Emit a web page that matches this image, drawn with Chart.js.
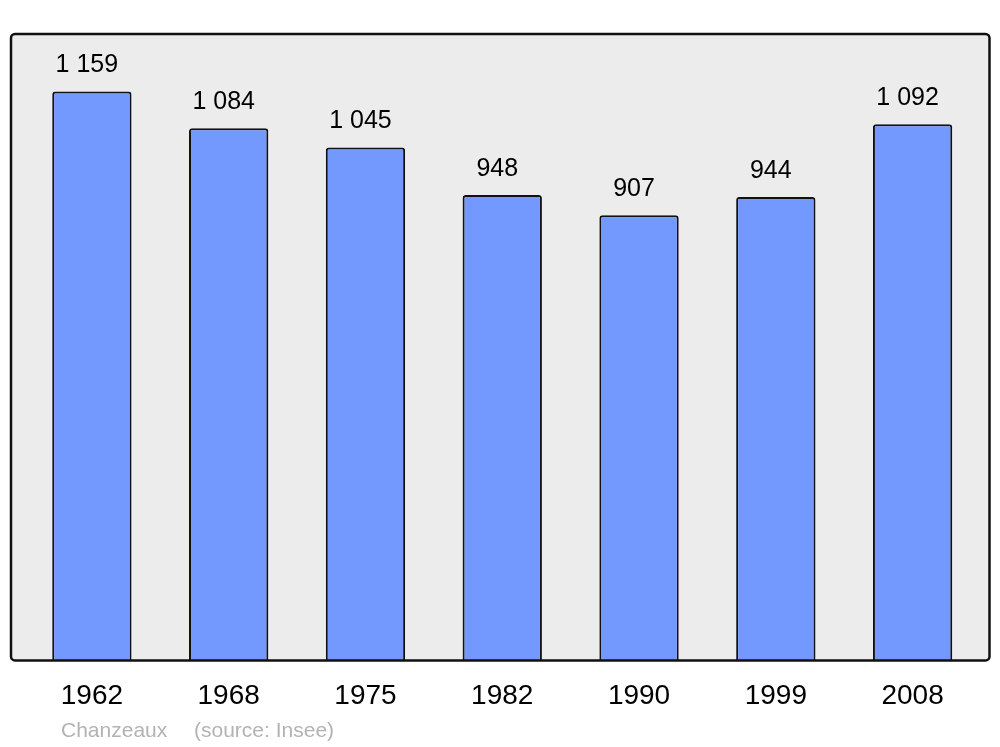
<!DOCTYPE html>
<html>
<head>
<meta charset="utf-8">
<script src="https://cdn.jsdelivr.net/npm/chart.js@4"></script>
<style>
  html, body { margin: 0; padding: 0; background: #fff; }
  #wrap { width: 1000px; height: 747px; }
</style>
</head>
<body>
<div id="wrap"><canvas id="myChart" width="1000" height="747"></canvas></div>
<script>
// data
const years = ['1962', '1968', '1975', '1982', '1990', '1999', '2008'];
const population = [1159, 1084, 1045, 948, 907, 944, 1092];
const footerText = ['Chanzeaux', '(source: Insee)'];

// "1 159" style with a plain space
function fmt(n) {
  return String(n).replace(/\B(?=(\d{3})+(?!\d))/g, ' ');
}

// grey frame behind the bars
const framePlugin = {
  id: 'frame',
  beforeDatasetsDraw(chart) {
    const { ctx, chartArea } = chart;
    ctx.save();
    ctx.beginPath();
    ctx.roundRect(chartArea.left - 12.5, chartArea.top, chartArea.right - chartArea.left + 21, chartArea.bottom - chartArea.top, 4);
    ctx.fillStyle = '#ececec';
    ctx.fill();
    ctx.restore();
  },
  afterDatasetsDraw(chart) {
    const { ctx, chartArea } = chart;
    ctx.save();
    ctx.beginPath();
    ctx.roundRect(chartArea.left - 12.5, chartArea.top, chartArea.right - chartArea.left + 21, chartArea.bottom - chartArea.top, 4);
    ctx.lineWidth = 2.5;
    ctx.strokeStyle = '#111';
    ctx.stroke();

    // value labels above each bar
    const meta = chart.getDatasetMeta(0);
    ctx.font = '25px "Liberation Sans", Arial, sans-serif';
    ctx.fillStyle = '#000';
    ctx.textAlign = 'center';
    ctx.textBaseline = 'middle';
    meta.data.forEach((bar, i) => {
      ctx.fillText(fmt(population[i]), bar.x - 5, bar.y - 26);
    });

    // footer
    ctx.font = '21px "Liberation Sans", Arial, sans-serif';
    ctx.fillStyle = '#b3b3b3';
    ctx.textAlign = 'left';
    ctx.fillText(footerText[0], 61, 731);
    ctx.fillText(footerText[1], 194, 731);
    ctx.restore();
  }
};

const ctx = document.getElementById('myChart').getContext('2d');
const myChart = new Chart(ctx, {
  type: 'bar',
  data: {
    labels: years,
    datasets: [{
      data: population,
      backgroundColor: '#7399ff',
      borderColor: '#111',
      borderWidth: 2,
      borderSkipped: 'bottom',
      borderRadius: { topLeft: 3, topRight: 3 },
      categoryPercentage: 1,
      barPercentage: 0.58
    }]
  },
  options: {
    responsive: false,
    animation: false,
    layout: { padding: { left: 23.5, right: 19, top: 34, bottom: 23 } },
    plugins: {
      legend: { display: false },
      tooltip: { enabled: false }
    },
    scales: {
      x: {
        grid: { display: false },
        border: { display: false },
        ticks: {
          color: '#000',
          padding: 11,
          font: { family: '"Liberation Sans", Arial, sans-serif', size: 28 }
        }
      },
      y: {
        display: false,
        min: 0,
        max: 1276
      }
    }
  },
  plugins: [framePlugin]
});
</script>
</body>
</html>
